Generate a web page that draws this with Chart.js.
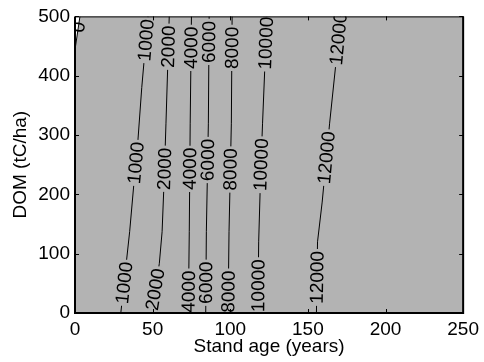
<!DOCTYPE html>
<html>
<head>
<meta charset="utf-8">
<script src="https://cdn.jsdelivr.net/npm/chart.js@4.4.1/dist/chart.umd.min.js"></script>
<style>
  html, body { margin:0; padding:0; background:#fff; }
</style>
</head>
<body>
<canvas id="grafico" width="484" height="362"></canvas>
<script>
// Isolinhas: idade do povoamento (anos) x DOM (tC/ha)
const niveis = [0, 1000, 2000, 4000, 6000, 8000, 10000, 12000];

// cada contorno como pares [idade, DOM]
const contorno0     = [[0, 444], [3.2, 500]];
const contorno1000  = [[29.5, 0], [33, 84], [35.2, 137], [38, 220], [40.5, 290], [43, 380], [47, 500]];
const contorno2000  = [[49, 0], [54.3, 83], [56.1, 137], [57.5, 230], [58.6, 320], [60.7, 500]];
const contorno4000  = [[73, 0], [73.6, 137], [74.2, 320], [75, 500]];
const contorno6000  = [[84.2, 0], [84.6, 137], [85.9, 320], [86.4, 500]];
const contorno8000  = [[98.6, 0], [99.2, 137], [100.7, 320], [101.2, 500]];
const contorno10000 = [[117.8, 0], [118.3, 120], [119.5, 230], [120.8, 320], [123.6, 500]];
const contorno12000 = [[155.5, 0], [156.2, 120], [159.2, 187], [164, 320], [168.4, 430], [171, 500]];
const contornos = [contorno0, contorno1000, contorno2000, contorno4000,
                   contorno6000, contorno8000, contorno10000, contorno12000];

// DOM onde fica cada rótulo sobre a sua linha
const rotulosDom = [[482], [51, 253, 460], [40, 243, 449], [36, 243, 447],
                    [51, 258, 457], [36, 242, 447], [46, 250, 455], [60, 262, 462]];

const ticksIdade = [0, 50, 100, 150, 200, 250];
const ticksDom = [0, 100, 200, 300, 400, 500];

const FONTE = { family: '"Liberation Sans", Arial, sans-serif', size: 19 };
const CINZA = '#b3b3b3';

const pts = (c) => c.map(p => ({ x: p[0], y: p[1] }));

// fundo cinza; acima do contorno zero fica branco
const fundo = {
  id: 'fundo',
  beforeDatasetsDraw(chart) {
    const { ctx, chartArea: a, scales: { x, y } } = chart;
    ctx.save();
    ctx.fillStyle = CINZA;
    ctx.fillRect(a.left, a.top, a.right - a.left, a.bottom - a.top);
    ctx.fillStyle = '#fff';
    ctx.beginPath();
    contorno0.forEach((p, k) => {
      const px = x.getPixelForValue(p[0]), py = y.getPixelForValue(p[1]);
      if (k === 0) ctx.moveTo(px, py); else ctx.lineTo(px, py);
    });
    ctx.lineTo(x.getPixelForValue(x.min), y.getPixelForValue(y.max));
    ctx.closePath();
    ctx.fill();
    ctx.restore();
  }
};

// rótulos "inline" girados ao longo de cada linha
const rotulos = {
  id: 'rotulos',
  afterDatasetsDraw(chart) {
    const { ctx, chartArea: area, scales: { x, y } } = chart;
    ctx.save();
    ctx.beginPath();
    ctx.rect(area.left, area.top, area.right - area.left, area.bottom - area.top);
    ctx.clip();
    ctx.font = FONTE.size + 'px ' + FONTE.family;
    ctx.textAlign = 'center';
    ctx.textBaseline = 'middle';
    contornos.forEach((c, i) => {
      const txt = String(niveis[i]);
      rotulosDom[i].forEach(d => {
        let k = 0;
        while (k < c.length - 2 && c[k + 1][1] < d) k++;
        const a = c[k], b = c[k + 1];
        const t = (d - a[1]) / (b[1] - a[1]);
        const idade = a[0] + (b[0] - a[0]) * t;
        const px = x.getPixelForValue(idade), py = y.getPixelForValue(d);
        const ang = Math.atan2(y.getPixelForValue(b[1]) - y.getPixelForValue(a[1]),
                               x.getPixelForValue(b[0]) - x.getPixelForValue(a[0]));
        const w = ctx.measureText(txt).width;
        ctx.save();
        ctx.translate(px, py);
        ctx.rotate(ang);
        if (niveis[i] !== 0) {
          ctx.fillStyle = CINZA;
          ctx.fillRect(-w / 2 - 2, -4, w + 4, 8);
        }
        ctx.fillStyle = '#000';
        ctx.fillText(txt, 0, 1);
        ctx.restore();
      });
    });
    ctx.restore();
  }
};

// caixa e marcas de escala para dentro
const caixa = {
  id: 'caixa',
  afterDraw(chart) {
    const { ctx, chartArea: a, scales: { x, y } } = chart;
    ctx.save();
    ctx.strokeStyle = '#000';
    ctx.lineWidth = 1;
    ctx.beginPath();
    ticksIdade.forEach(v => {
      const px = Math.round(x.getPixelForValue(v)) + 0.5;
      ctx.moveTo(px, a.bottom); ctx.lineTo(px, a.bottom - 4);
      ctx.moveTo(px, a.top); ctx.lineTo(px, a.top + 4);
    });
    ticksDom.forEach(v => {
      const py = Math.round(y.getPixelForValue(v)) + 0.5;
      ctx.moveTo(a.left, py); ctx.lineTo(a.left + 4, py);
      ctx.moveTo(a.right, py); ctx.lineTo(a.right - 4, py);
    });
    ctx.stroke();
    ctx.beginPath();
    ctx.moveTo(a.left, a.top + 0.5); ctx.lineTo(a.right, a.top + 0.5);
    ctx.stroke();
    ctx.lineWidth = 2;
    ctx.beginPath();
    ctx.moveTo(a.left, a.top); ctx.lineTo(a.left, a.bottom);
    ctx.lineTo(a.right, a.bottom); ctx.lineTo(a.right, a.top);
    ctx.stroke();
    ctx.restore();
  }
};

const datasets = contornos.map(c => ({
  data: pts(c),
  showLine: true, fill: false,
  borderColor: '#000', borderWidth: 1,
  pointRadius: 0, tension: 0
}));

new Chart(document.getElementById('grafico'), {
  type: 'scatter',
  data: { datasets },
  options: {
    responsive: false,
    animation: false,
    devicePixelRatio: 1,
    layout: { padding: { top: 11, right: 18, left: 0, bottom: 0 } },
    plugins: { legend: { display: false }, tooltip: { enabled: false } },
    scales: {
      x: {
        type: 'linear', min: 0, max: 250,
        afterFit: s => { s.height = 49; },
        afterBuildTicks: s => { s.ticks = ticksIdade.map(v => ({ value: v })); },
        grid: { display: false, drawTicks: false },
        border: { display: false },
        ticks: { color: '#000', font: FONTE, padding: 5, maxRotation: 0 },
        title: { display: true, text: 'Stand age (years)', color: '#000', font: FONTE,
                 padding: { top: 0, bottom: 4 } }
      },
      y: {
        type: 'linear', min: 0, max: 500,
        afterFit: s => { s.width = 75; },
        afterBuildTicks: s => { s.ticks = ticksDom.map(v => ({ value: v })); },
        grid: { display: false, drawTicks: false },
        border: { display: false },
        ticks: { color: '#000', font: FONTE, padding: 5 },
        title: { display: true, text: 'DOM (tC/ha)', color: '#000', font: FONTE,
                 padding: { top: 9, bottom: 0 } }
      }
    }
  },
  plugins: [fundo, rotulos, caixa]
});
</script>
</body>
</html>
